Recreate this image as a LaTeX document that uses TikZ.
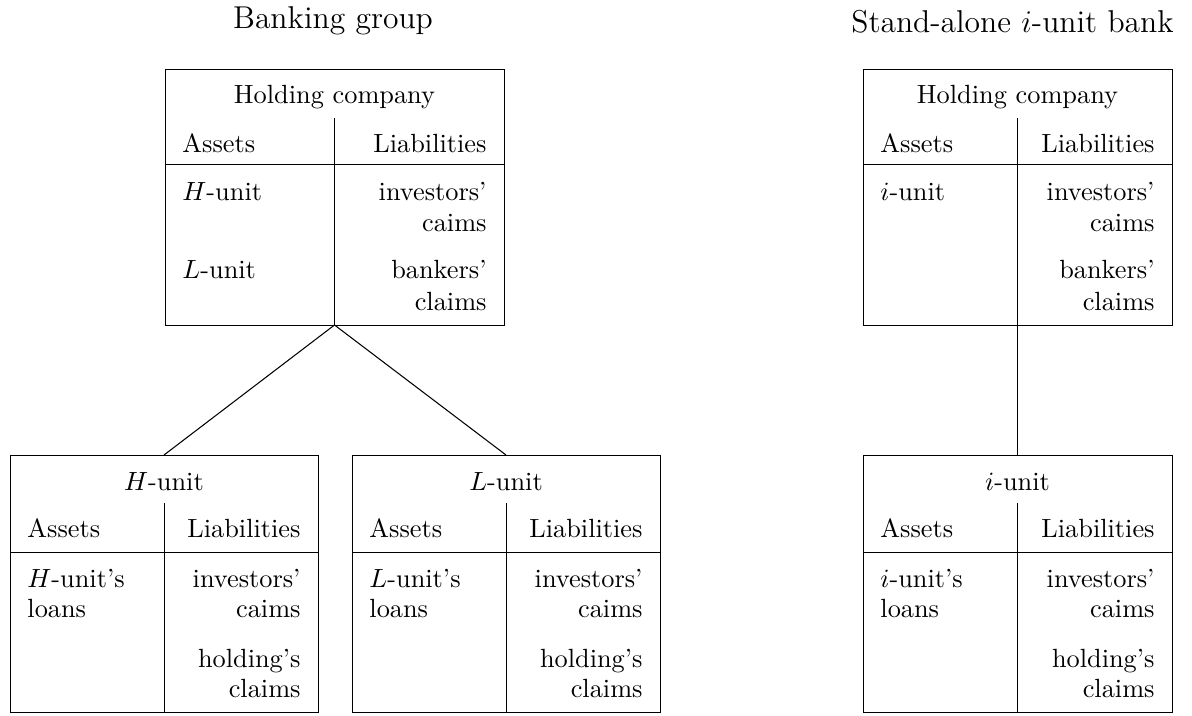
\documentclass[tikz,border=0pt]{standalone}
\usetikzlibrary{fit}
\begin{document}
\begin{tikzpicture}[x=0.38pt,y=-0.38pt,line width=0.35pt,
  frame/.style={draw, line width=0.35pt, inner sep=0pt, outer sep=0pt},
  lbl/.style={anchor=base west, inner sep=0pt},
  rbl/.style={anchor=base east, inner sep=0pt},
  ctr/.style={anchor=base, inner sep=0pt},
  ttl/.style={anchor=base, inner sep=0pt, font=\large},
  link/.style={draw, line width=0.4pt},
  slink/.style={draw, line width=0.6pt}]
\useasboundingbox (0,0) rectangle (1192,715);
% titles
\node[ttl] (tgroup) at (333,28) {Banking group};
\node[ttl] (tstand) at (1012.5,32) {Stand-alone $i$-unit bank};
% boxes
\node[frame, fit={(165,69) (504,325)}] (hold) {};
\node[frame, fit={(863,69) (1172,325)}] (holdi) {};
\node[frame, fit={(10,455) (318,712)}] (hunit) {};
\node[frame, fit={(352,455) (660,712)}] (lunit) {};
\node[frame, fit={(863,455) (1172,712)}] (iunit) {};
% connectors
\draw[link] (hold.south) -- (hunit.north);
\draw[link] (hold.south) -- (lunit.north);
\draw[slink] (holdi.south) -- (iunit.north);
% top-left box
\draw (165,164) -- (504,164);
\draw (334.5,118) -- (334.5,325);
\node[ctr] (h1t) at (334.5,103) {Holding company};
\node[lbl] (h1a) at (182,152) {Assets};
\node[rbl] (h1l) at (487,152) {Liabilities};
\node[lbl] (h1x) at (182,200) {$H$-unit};
\node[rbl] (h1y) at (487,200) {investors'};
\node[rbl] (h1z) at (487,231) {caims};
\node[lbl] (h1u) at (182,278) {$L$-unit};
\node[rbl] (h1v) at (487,278) {bankers'};
\node[rbl] (h1w) at (487,310) {claims};
% top-right box
\draw (863,164) -- (1172,164);
\draw (1017.5,118) -- (1017.5,325);
\node[ctr] (h2t) at (1017.5,103) {Holding company};
\node[lbl] (h2a) at (880,152) {Assets};
\node[rbl] (h2l) at (1155,152) {Liabilities};
\node[lbl] (h2x) at (880,200) {$i$-unit};
\node[rbl] (h2y) at (1155,200) {investors'};
\node[rbl] (h2z) at (1155,231) {caims};
\node[rbl] (h2v) at (1155,278) {bankers'};
\node[rbl] (h2w) at (1155,310) {claims};
% H-unit box
\draw (10,552) -- (318,552);
\draw (164,503) -- (164,712);
\node[ctr] (b1t) at (164,490) {$H$-unit};
\node[lbl] (b1a) at (27,537) {Assets};
\node[rbl] (b1l) at (301,537) {Liabilities};
\node[lbl] (b1x) at (27,587) {$H$-unit's};
\node[lbl] (b1x2) at (27,617) {loans};
\node[rbl] (b1y) at (301,587) {investors'};
\node[rbl] (b1z) at (301,617) {caims};
\node[rbl] (b1v) at (301,667) {holding's};
\node[rbl] (b1w) at (301,697) {claims};
% L-unit box
\draw (352,552) -- (660,552);
\draw (506,503) -- (506,712);
\node[ctr] (b2t) at (506,490) {$L$-unit};
\node[lbl] (b2a) at (369,537) {Assets};
\node[rbl] (b2l) at (643,537) {Liabilities};
\node[lbl] (b2x) at (369,587) {$L$-unit's};
\node[lbl] (b2x2) at (369,617) {loans};
\node[rbl] (b2y) at (643,587) {investors'};
\node[rbl] (b2z) at (643,617) {caims};
\node[rbl] (b2v) at (643,667) {holding's};
\node[rbl] (b2w) at (643,697) {claims};
% i-unit box
\draw (863,552) -- (1172,552);
\draw (1017.5,503) -- (1017.5,712);
\node[ctr] (b3t) at (1017.5,490) {$i$-unit};
\node[lbl] (b3a) at (880,537) {Assets};
\node[rbl] (b3l) at (1155,537) {Liabilities};
\node[lbl] (b3x) at (880,587) {$i$-unit's};
\node[lbl] (b3x2) at (880,617) {loans};
\node[rbl] (b3y) at (1155,587) {investors'};
\node[rbl] (b3z) at (1155,617) {caims};
\node[rbl] (b3v) at (1155,667) {holding's};
\node[rbl] (b3w) at (1155,697) {claims};
\end{tikzpicture}
\end{document}
